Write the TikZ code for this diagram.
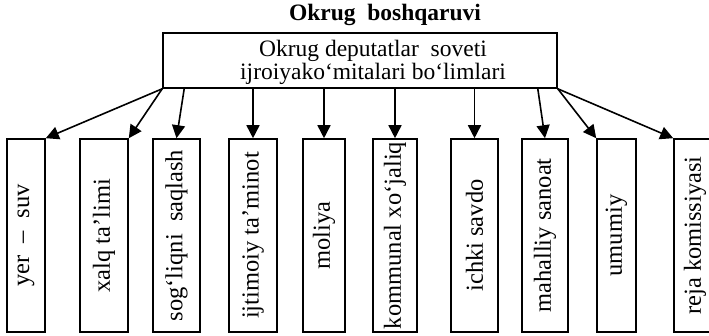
\documentclass[tikz,border=0pt]{standalone}
\usepackage{fontspec}
\setmainfont{Liberation Serif}
\usetikzlibrary{arrows.meta}
\tikzset{
  unitbox/.style={draw, line width=1.6pt, inner sep=0pt, minimum height=193pt},
  lbl/.style={font=\fontsize{23.5}{23}\selectfont},
  arr/.style={line width=1.6pt, -{Triangle[length=13pt,width=13pt]}},
}
\newcommand{\vlab}[1]{\rotatebox{90}{\fontsize{24.5}{24}\selectfont #1}}
\begin{document}
\begin{tikzpicture}[x=1pt,y=-1pt]
\useasboundingbox (0,0) rectangle (709,335);
\clip (0,0) rectangle (709,335);
\node[inner sep=0pt] (title) at (385,15) {\fontsize{23.5}{23}\selectfont\bfseries Okrug\ \ boshqaruvi};
\node[draw, line width=1.6pt, minimum width=394pt, minimum height=55pt, inner sep=0pt] (top) at (360,60.5) {};
\node[lbl, align=center, inner sep=0pt] (toptext) at (373,62) {Okrug deputatlar\ \ soveti\\ijroiyako‘mitalari bo‘limlari};
\node[unitbox, minimum width=38pt] (b1) at (26,235.5) {\vlab{yer\ \ –\ \ suv}};
\node[unitbox, minimum width=48pt] (b2) at (104,235.5) {\vlab{xalq ta’limi}};
\node[unitbox, minimum width=47pt] (b3) at (176.5,235.5) {\vlab{sog‘liqni\ \ saqlash}};
\node[unitbox, minimum width=48pt] (b4) at (253,235.5) {\vlab{ijtimoiy ta’minot}};
\node[unitbox, minimum width=42pt] (b5) at (324,235.5) {\vlab{moliya}};
\node[unitbox, minimum width=44pt] (b6) at (395,235.5) {\vlab{kommunal xo‘jaliq}};
\node[unitbox, minimum width=47pt] (b7) at (474.5,235.5) {\vlab{ichki savdo}};
\node[unitbox, minimum width=46pt] (b8) at (545,235.5) {\vlab{mahalliy sanoat}};
\node[unitbox, minimum width=39pt] (b9) at (616.5,235.5) {\vlab{umumiy}};
\node[unitbox, minimum width=42pt] (b10) at (695,235.5) {\vlab{reja komissiyasi}};
\draw[arr] (top.south west) -- (b1.north east);
\draw[arr] (top.south west) -- (b2.north east);
\draw[arr] ([xshift=22pt]top.south west) -- (b3.north);
\draw[arr] (top.south -| b4.north) -- (b4.north);
\draw[arr] (top.south -| b5.north) -- (b5.north);
\draw[arr] (top.south -| b6.north) -- (b6.north);
\draw[arr] (top.south -| b7.north) -- (b7.north);
\draw[arr] ([xshift=-20pt]top.south east) -- (b8.north);
\draw[arr] (top.south east) -- (b9.north west);
\draw[arr] (top.south east) -- (b10.north west);
\end{tikzpicture}
\end{document}
